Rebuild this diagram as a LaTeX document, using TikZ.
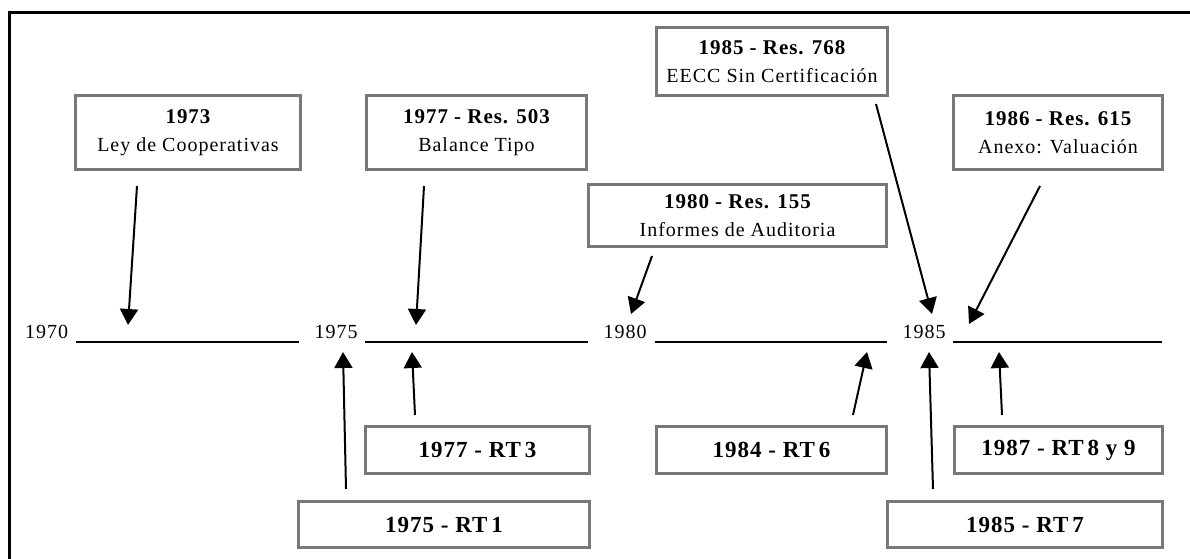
\documentclass[tikz,border=0pt]{standalone}
\usepackage{fontspec}
\setmainfont{Liberation Serif}
\usetikzlibrary{arrows.meta}
\definecolor{boxgray}{RGB}{120,120,120}
\newcommand\regfont{\fontsize{20}{28}\selectfont\addfontfeature{LetterSpace=5}}
\newcommand\ttl[1]{{\fontsize{21}{28}\selectfont\bfseries\addfontfeature{LetterSpace=4.5}#1}}
\newcommand\lowfont{\fontsize{23}{28}\selectfont\bfseries\addfontfeature{LetterSpace=4.5}}
\begin{document}
\begin{tikzpicture}[x=1pt,y=-1pt,
  evbox/.style={draw=boxgray, line width=3pt, fill=white, inner sep=0pt, align=center,
    font=\regfont},
  lowbox/.style={evbox, font=\lowfont},
  yearlbl/.style={inner sep=0pt, anchor=base, font=\regfont},
  tline/.style={line width=2pt},
  arr/.style={line width=2pt, -{Triangle[length=16pt,width=18pt]}},
  frame/.style={line width=3pt}]
\useasboundingbox (0,0) rectangle (1190,558);
% frame
\draw[frame] (9.5,570) -- (9.5,12.5) -- (1200,12.5);
% timeline labels
\node[yearlbl] (y1970) at (46.5,338) {1970};
\node[yearlbl] (y1975) at (336,338) {1975};
\node[yearlbl] (y1980) at (625,338) {1980};
\node[yearlbl] (y1985) at (924,338) {1985};
% timeline segments
\draw[tline] (76,341.5) -- (299,341.5);
\draw[tline] (365,341.5) -- (588,341.5);
\draw[tline] (655,341.5) -- (887,341.5);
\draw[tline] (953,341.5) -- (1162,341.5);
% top boxes
\node[evbox, minimum width=225pt, minimum height=74pt] (b1973) at (188,132.5)
  {\ttl{1973}\\Ley de Cooperativas};
\node[evbox, minimum width=220pt, minimum height=74pt] (b1977r) at (476.5,132.5)
  {\ttl{1977 - Res. 503}\\Balance Tipo};
\node[evbox, minimum width=231pt, minimum height=68pt] (b1985r) at (772,61.5)
  {\ttl{1985 - Res. 768}\\EECC Sin Certificación};
\node[evbox, minimum width=209pt, minimum height=74pt] (b1986r) at (1058,132.5)
  {\ttl{1986 - Res. 615}\\Anexo: Valuación};
\node[evbox, minimum width=298pt, minimum height=62pt] (b1980r) at (737.5,215.5)
  {\ttl{1980 - Res. 155}\\Informes de Auditoria};
% bottom boxes
\node[lowbox, minimum width=224pt, minimum height=47pt] (b1977t) at (477.5,450)
  {1977 - RT\,3};
\node[lowbox, minimum width=291pt, minimum height=46pt] (b1975t) at (444,524.5)
  {1975 - RT\,1};
\node[lowbox, minimum width=230pt, minimum height=47pt] (b1984t) at (771.5,450)
  {1984 - RT\,6};
\node[lowbox, minimum width=208pt, minimum height=47pt] (b1987t) at (1058.5,450)
  {1987 - RT\,8 y 9};
\node[lowbox, minimum width=275pt, minimum height=46pt] (b1985t) at (1025,524.5)
  {1985 - RT\,7};
% arrow end points
\coordinate (s1) at (137,186);  \coordinate (t1) at (128,325);
\coordinate (s2) at (424,186);  \coordinate (t2) at (416,325);
\coordinate (s3) at (652,256);  \coordinate (t3) at (631,314);
\coordinate (s4) at (876,104);  \coordinate (t4) at (932,314);
\coordinate (s5) at (1040,186); \coordinate (t5) at (969,324);
\coordinate (u1) at (346,489);  \coordinate (v1) at (343,352);
\coordinate (u2) at (415,415);  \coordinate (v2) at (412,352);
\coordinate (u3) at (853,415);  \coordinate (v3) at (867,352);
\coordinate (u4) at (933,489);  \coordinate (v4) at (929,352);
\coordinate (u5) at (1002,415); \coordinate (v5) at (999,352);
% arrows
\draw[arr] (s1) -- (t1);
\draw[arr] (s2) -- (t2);
\draw[arr] (s3) -- (t3);
\draw[arr] (s4) -- (t4);
\draw[arr] (s5) -- (t5);
\draw[arr] (u1) -- (v1);
\draw[arr] (u2) -- (v2);
\draw[arr] (u3) -- (v3);
\draw[arr] (u4) -- (v4);
\draw[arr] (u5) -- (v5);
\end{tikzpicture}
\end{document}
